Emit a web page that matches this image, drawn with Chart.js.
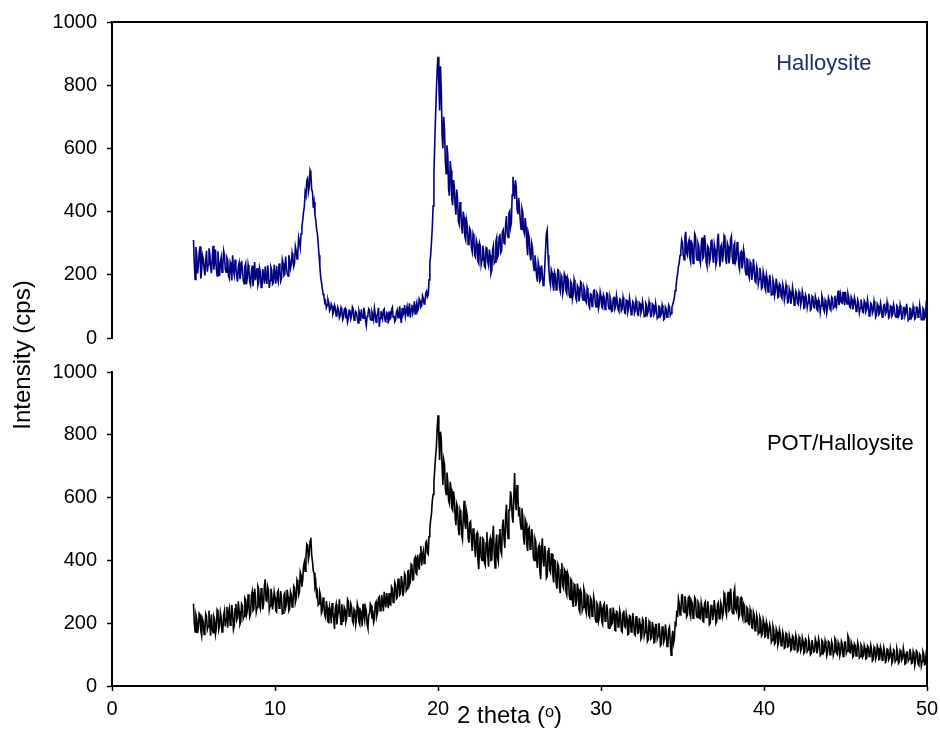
<!DOCTYPE html>
<html>
<head>
<meta charset="utf-8">
<script src="https://cdn.jsdelivr.net/npm/chart.js@4/dist/chart.umd.min.js"></script>
<style>
  body { margin: 0; background: #fff; }
</style>
</head>
<body>
<canvas id="myChart" width="940" height="731"></canvas>
<script>
// scan: 2 theta from 5 to 50 deg, 0.05 deg step
const thetaStart = 5;
const thetaStep = 0.05;

// Halloysite (cps), one row per degree
const halloysite = [
  310, 236, 185, 288, 262, 204, 228, 270, 290, 188, 214, 262, 251, 220, 198, 246, 276, 210, 232, 284,
  268, 224, 205, 250, 292, 216, 241, 280, 219, 196, 274, 232, 196, 240, 255, 208, 230, 276, 262, 218,
  208, 254, 246, 196, 188, 240, 231, 182, 262, 214, 199, 248, 225, 196, 178, 226, 238, 186, 205, 244,
  219, 184, 172, 226, 236, 170, 191, 232, 214, 178, 168, 210, 229, 164, 196, 240, 183, 204, 221, 166,
  176, 222, 209, 160, 164, 218, 198, 172, 226, 186, 171, 230, 203, 158, 182, 224, 215, 170, 174, 232,
  196, 172, 228, 190, 178, 236, 214, 180, 189, 248, 236, 198, 202, 258, 224, 204, 196, 262, 245, 220,
  232, 268, 250, 226, 238, 290, 276, 250, 268, 318, 304, 286, 330, 352, 372, 398, 415, 462, 452, 498,
  505, 462, 478, 530, 520, 470, 462, 412, 430, 390, 372, 346, 330, 300, 262, 228, 195, 176, 158, 140,
  132, 112, 118, 96, 104, 122, 112, 86, 92, 108, 101, 76, 84, 104, 96, 70, 78, 98, 90, 64,
  72, 96, 88, 58, 66, 90, 94, 62, 75, 50, 62, 88, 86, 60, 70, 98, 92, 56, 64, 84,
  80, 62, 48, 86, 76, 54, 91, 70, 63, 96, 82, 58, 40, 68, 74, 92, 88, 60, 56, 82,
  72, 58, 94, 76, 50, 68, 79, 96, 36, 62, 85, 70, 60, 88, 92, 54, 52, 80, 77, 46,
  84, 60, 63, 90, 97, 66, 71, 52, 58, 82, 89, 64, 74, 100, 66, 48, 95, 72, 78, 104,
  70, 86, 99, 68, 82, 110, 64, 92, 105, 78, 88, 116, 76, 98, 112, 86, 94, 124, 118, 98,
  102, 134, 126, 108, 114, 142, 148, 130, 136, 184, 238, 262, 302, 350, 418, 520, 615, 700, 782, 850,
  890, 810, 720, 860, 790, 640, 600, 700, 660, 560, 520, 610, 580, 470, 450, 560, 530, 440, 420, 500,
  480, 420, 390, 470, 440, 370, 360, 430, 410, 350, 330, 400, 382, 320, 310, 372, 356, 296, 300, 346,
  338, 286, 272, 330, 320, 262, 256, 310, 298, 244, 236, 300, 290, 232, 248, 292, 274, 226, 222, 286,
  284, 242, 230, 280, 262, 204, 214, 278, 292, 236, 240, 306, 318, 254, 262, 320, 330, 270, 276, 336,
  342, 300, 298, 360, 386, 330, 318, 396, 402, 350, 364, 452, 510, 470, 440, 500, 478, 410, 392, 444,
  410, 370, 344, 410, 398, 340, 330, 380, 352, 296, 262, 330, 318, 262, 246, 300, 286, 232, 214, 262,
  236, 196, 178, 240, 224, 180, 186, 230, 204, 166, 170, 226, 280, 330, 342, 262, 220, 184, 168, 216,
  206, 168, 150, 208, 198, 152, 162, 216, 214, 160, 148, 198, 188, 140, 156, 204, 196, 150, 142, 190,
  180, 136, 128, 178, 172, 124, 140, 184, 168, 126, 118, 166, 160, 116, 132, 178, 174, 130, 120, 160,
  150, 118, 112, 158, 146, 104, 96, 140, 138, 100, 118, 150, 152, 110, 98, 142, 136, 94, 108, 146,
  132, 98, 94, 136, 126, 90, 104, 142, 140, 102, 92, 130, 118, 84, 86, 126, 128, 92, 100, 134,
  116, 90, 84, 124, 122, 86, 92, 128, 110, 80, 78, 120, 118, 84, 96, 126, 106, 74, 80, 116,
  112, 78, 86, 118, 102, 74, 72, 112, 108, 80, 90, 116, 98, 68, 70, 110, 104, 76, 84, 114,
  96, 68, 70, 108, 104, 74, 80, 110, 92, 62, 66, 100, 98, 70, 76, 104, 90, 58, 62, 98,
  92, 66, 70, 104, 98, 72, 78, 96, 106, 116, 128, 150, 162, 186, 204, 226, 238, 262, 276, 310,
  300, 262, 248, 320, 336, 270, 262, 300, 310, 252, 240, 304, 298, 236, 268, 330, 322, 256, 246, 300,
  290, 248, 236, 296, 318, 252, 258, 326, 302, 240, 228, 290, 284, 238, 250, 306, 312, 260, 238, 296,
  280, 232, 244, 310, 330, 262, 226, 290, 296, 240, 262, 324, 318, 250, 234, 300, 290, 236, 254, 312,
  322, 260, 236, 292, 300, 240, 250, 304, 286, 232, 218, 270, 274, 220, 236, 280, 262, 214, 200, 250,
  248, 200, 190, 240, 232, 184, 204, 250, 222, 180, 176, 226, 214, 170, 186, 222, 198, 156, 160, 210,
  196, 160, 150, 200, 186, 146, 162, 200, 178, 136, 138, 184, 172, 134, 150, 188, 166, 128, 130, 172,
  168, 132, 126, 170, 156, 120, 138, 168, 150, 112, 114, 156, 146, 108, 128, 160, 140, 104, 110, 148,
  142, 110, 106, 146, 138, 104, 118, 148, 132, 94, 96, 136, 128, 96, 112, 140, 124, 88, 92, 132,
  128, 98, 96, 132, 120, 90, 86, 122, 116, 82, 102, 134, 124, 92, 84, 120, 112, 80, 96, 128,
  118, 92, 88, 130, 126, 94, 98, 134, 112, 100, 130, 150, 104, 120, 138, 112, 110, 146, 124, 104,
  146, 118, 108, 140, 128, 100, 96, 130, 122, 90, 104, 128, 116, 84, 88, 120, 110, 80, 94, 122,
  108, 82, 80, 118, 112, 84, 92, 120, 100, 70, 74, 110, 106, 78, 86, 116, 98, 66, 72, 108,
  102, 74, 78, 110, 96, 66, 70, 104, 106, 76, 82, 112, 92, 64, 68, 102, 100, 70, 76, 106,
  94, 70, 66, 102, 98, 68, 74, 104, 88, 60, 62, 96, 96, 70, 78, 108, 84, 56, 60, 94,
  92, 64, 70, 100, 86, 60, 64, 98, 96, 66, 72, 104, 84, 58, 58, 94, 90, 62, 68, 110,
  105
];

// POT/Halloysite (cps)
const potHalloysite = [
  262, 200, 172, 226, 214, 168, 186, 232, 228, 176, 160, 214, 205, 164, 178, 230, 222, 180, 190, 240,
  196, 160, 228, 184, 170, 220, 210, 166, 184, 242, 236, 180, 192, 234, 218, 172, 176, 226, 240, 190,
  214, 252, 186, 236, 248, 194, 206, 258, 230, 180, 192, 246, 262, 210, 218, 270, 240, 196, 204, 262,
  256, 214, 222, 280, 274, 226, 238, 292, 262, 220, 228, 286, 300, 240, 244, 310, 286, 236, 250, 318,
  310, 256, 246, 312, 296, 244, 262, 320, 340, 272, 270, 316, 304, 242, 256, 310, 292, 244, 268, 300,
  282, 240, 236, 298, 304, 248, 250, 302, 278, 230, 232, 290, 296, 248, 258, 306, 284, 240, 246, 300,
  290, 252, 262, 318, 312, 266, 278, 338, 330, 290, 300, 362, 352, 316, 338, 380, 394, 366, 410, 452,
  448, 404, 420, 462, 472, 418, 396, 366, 360, 318, 330, 290, 300, 258, 262, 298, 286, 232, 240, 282,
  262, 226, 218, 270, 250, 204, 202, 252, 238, 200, 264, 236, 216, 182, 248, 260, 196, 226, 236, 276,
  228, 196, 260, 232, 204, 250, 242, 206, 218, 276, 270, 222, 226, 262, 252, 208, 200, 244, 238, 196,
  214, 262, 250, 204, 196, 240, 234, 190, 262, 228, 210, 252, 242, 196, 184, 226, 230, 262, 256, 214,
  240, 202, 212, 262, 268, 224, 236, 280, 284, 240, 246, 290, 262, 238, 300, 270, 250, 296, 276, 248,
  296, 260, 258, 316, 310, 266, 272, 330, 322, 278, 282, 340, 342, 290, 294, 350, 330, 286, 304, 358,
  352, 304, 310, 366, 368, 322, 330, 388, 384, 338, 340, 404, 410, 360, 356, 418, 392, 370, 420, 446,
  384, 416, 430, 390, 398, 458, 462, 424, 420, 476, 500, 530, 548, 590, 610, 650, 690, 730, 760, 820,
  862, 800, 720, 810, 790, 700, 640, 720, 705, 630, 610, 680, 650, 590, 580, 650, 628, 566, 560, 620,
  600, 540, 512, 580, 570, 500, 480, 560, 548, 480, 466, 540, 590, 520, 500, 556, 540, 470, 456, 520,
  524, 470, 430, 500, 502, 440, 410, 482, 488, 400, 372, 440, 476, 410, 400, 470, 466, 392, 384, 456,
  490, 420, 380, 460, 470, 400, 402, 476, 510, 420, 376, 450, 482, 410, 396, 480, 500, 430, 420, 506,
  530, 470, 440, 540, 578, 500, 470, 560, 560, 620, 600, 540, 520, 600, 678, 590, 560, 640, 610, 540,
  570, 520, 500, 566, 540, 470, 450, 530, 520, 450, 430, 500, 505, 436, 440, 500, 478, 410, 400, 470,
  460, 400, 376, 440, 448, 366, 340, 430, 470, 396, 380, 446, 424, 344, 350, 430, 440, 370, 362, 420,
  420, 350, 330, 400, 398, 326, 310, 388, 380, 316, 296, 370, 392, 320, 312, 372, 366, 300, 290, 360,
  350, 290, 276, 340, 336, 268, 252, 324, 320, 254, 270, 326, 308, 244, 236, 304, 296, 240, 250, 310,
  298, 244, 232, 290, 286, 226, 220, 282, 276, 222, 236, 284, 268, 214, 204, 264, 258, 206, 218, 270,
  250, 204, 196, 256, 262, 206, 210, 260, 238, 186, 184, 244, 246, 196, 200, 250, 230, 178, 176, 238,
  236, 188, 190, 240, 226, 176, 172, 232, 240, 190, 186, 230, 214, 164, 166, 224, 222, 172, 180, 232,
  210, 166, 162, 220, 222, 168, 170, 216, 198, 150, 156, 214, 208, 160, 172, 220, 190, 142, 148, 206,
  200, 150, 154, 204, 186, 138, 140, 196, 196, 150, 160, 200, 178, 128, 132, 188, 190, 140, 150, 196,
  172, 126, 130, 180, 188, 140, 98, 150, 176, 136, 150, 200, 196, 240, 220, 278, 262, 226, 236, 290,
  290, 240, 234, 286, 270, 220, 226, 280, 284, 230, 220, 270, 262, 216, 234, 282, 276, 226, 218, 268,
  262, 216, 214, 266, 250, 206, 204, 262, 268, 218, 222, 270, 246, 196, 200, 256, 258, 210, 228, 274,
  244, 200, 206, 260, 266, 214, 216, 264, 252, 220, 232, 296, 290, 238, 226, 280, 300, 240, 244, 310,
  276, 234, 230, 296, 310, 248, 240, 286, 264, 218, 226, 280, 282, 226, 214, 262, 256, 204, 206, 250,
  246, 198, 196, 244, 232, 186, 184, 236, 226, 176, 180, 226, 214, 166, 170, 218, 208, 160, 166, 212,
  200, 156, 158, 204, 192, 150, 150, 196, 184, 140, 146, 190, 178, 134, 138, 182, 172, 130, 140, 180,
  168, 128, 130, 172, 160, 120, 122, 168, 164, 124, 126, 162, 150, 114, 118, 160, 156, 116, 124, 162,
  150, 110, 114, 156, 148, 112, 120, 154, 142, 104, 108, 150, 146, 110, 116, 148, 136, 100, 104, 146,
  146, 108, 110, 150, 140, 104, 118, 150, 136, 98, 102, 146, 142, 106, 112, 144, 130, 96, 106, 142,
  138, 100, 104, 142, 132, 98, 110, 152, 146, 104, 100, 138, 128, 96, 108, 142, 134, 94, 98, 140,
  140, 104, 112, 160, 152, 108, 106, 140, 130, 92, 96, 134, 128, 96, 110, 138, 124, 90, 94, 132,
  126, 92, 98, 130, 120, 86, 88, 128, 124, 94, 100, 130, 116, 80, 84, 124, 118, 86, 96, 128,
  120, 84, 86, 124, 114, 82, 92, 122, 108, 76, 80, 118, 116, 84, 90, 120, 104, 74, 82, 116,
  112, 78, 84, 118, 106, 72, 76, 114, 110, 82, 88, 120, 102, 70, 72, 108, 108, 80, 86, 118,
  104, 72, 74, 110, 100, 66, 82, 112, 108, 70, 66, 102, 98, 64, 78, 110, 102, 68, 70, 104,
  96
];

const xTicks = [0, 10, 20, 30, 40, 50];
const yMin = 0, yMax = 1000, yStep = 100;

const toPoints = (values) => values.map((v, i) => ({ x: +(thetaStart + i * thetaStep).toFixed(2), y: v }));

const fontFamily = '"Liberation Sans", Arial, sans-serif';
const tickFont = { family: fontFamily, size: 20 };
const titleFont = { family: fontFamily, size: 24 };

const panelAxis = (weight, stackWeight) => ({
  type: 'linear',
  position: 'left',
  stack: 'panels',
  stackWeight: stackWeight,
  weight: weight,
  min: yMin,
  max: yMax,
  ticks: {
    stepSize: yStep,
    color: '#000',
    font: tickFont,
    padding: 10,
    callback: (v) => (v % 200 === 0 ? v : '')
  },
  grid: { display: true, drawOnChartArea: false, tickLength: 5, tickWidth: 1.5, color: '#000' },
  border: { display: true, color: '#000', width: 2 },
  afterFit: (s) => { s.width = 112; }
});

const seriesLabels = {
  id: 'seriesLabels',
  afterDatasetsDraw(chart) {
    const { ctx, scales } = chart;
    ctx.save();
    ctx.font = '22px ' + fontFamily;
    ctx.textAlign = 'center';
    ctx.textBaseline = 'middle';
    ctx.fillStyle = '#1f2f6e';
    ctx.fillText('Halloysite', scales.x.getPixelForValue(43.67), scales.yTop.getPixelForValue(866));
    ctx.fillStyle = '#000';
    ctx.fillText('POT/Halloysite', scales.x.getPixelForValue(44.68), scales.yBot.getPixelForValue(770));
    ctx.restore();
  }
};

const ctx = document.getElementById('myChart');

const data = {
  datasets: [
    {
      label: 'Halloysite',
      data: toPoints(halloysite),
      xAxisID: 'x',
      yAxisID: 'yTop',
      borderColor: '#000080',
      borderWidth: 1.6,
      pointRadius: 0,
      tension: 0
    },
    {
      label: 'POT/Halloysite',
      data: toPoints(potHalloysite),
      xAxisID: 'x',
      yAxisID: 'yBot',
      borderColor: '#000',
      borderWidth: 1.6,
      pointRadius: 0,
      tension: 0
    }
  ]
};

const config = {
  type: 'line',
  data: data,
  plugins: [seriesLabels],
  options: {
    responsive: false,
    animation: false,
    layout: { padding: { top: 22, right: 13, bottom: 0, left: 0 } },
    plugins: {
      legend: { display: false },
      tooltip: { enabled: false }
    },
    scales: {
      x: {
        type: 'linear',
        position: 'bottom',
        min: 0,
        max: 50,
        afterBuildTicks: (s) => { s.ticks = xTicks.map(v => ({ value: v })); },
        ticks: { color: '#000', font: tickFont, padding: 6, maxRotation: 0 },
        grid: { display: true, drawOnChartArea: false, tickLength: 5, tickWidth: 1.5, color: '#000' },
        border: { display: true, color: '#000', width: 2 },
        // trailing spaces nudge the centred title a little to the left, as in the source
        title: { display: true, text: '2 theta (ᵒ)   ', color: '#000', font: titleFont, padding: { top: 0, bottom: 0 } },
        afterFit: (s) => { s.height = 45; s.paddingLeft = 0; s.paddingRight = 0; }
      },
      xTop: {
        type: 'linear',
        position: 'top',
        min: 0,
        max: 50,
        ticks: { display: false },
        grid: { display: false },
        border: { display: true, color: '#000', width: 2 },
        afterFit: (s) => { s.height = 0; }
      },
      yTop: panelAxis(3, 316),
      yGap: {
        type: 'linear',
        position: 'left',
        stack: 'panels',
        stackWeight: 34,
        weight: 2,
        ticks: { display: false },
        grid: { display: false },
        border: { display: false },
        title: { display: true, text: 'Intensity (cps)', color: '#000', font: titleFont, padding: { top: 9, bottom: 0 } },
        afterFit: (s) => { s.width = 112; }
      },
      yBot: panelAxis(1, 314),
      yRight: {
        type: 'linear',
        position: 'right',
        ticks: { display: false },
        grid: { display: false },
        border: { display: true, color: '#000', width: 2 },
        afterFit: (s) => { s.width = 0; }
      }
    }
  }
};

const myChart = new Chart(ctx, config);
</script>
</body>
</html>
